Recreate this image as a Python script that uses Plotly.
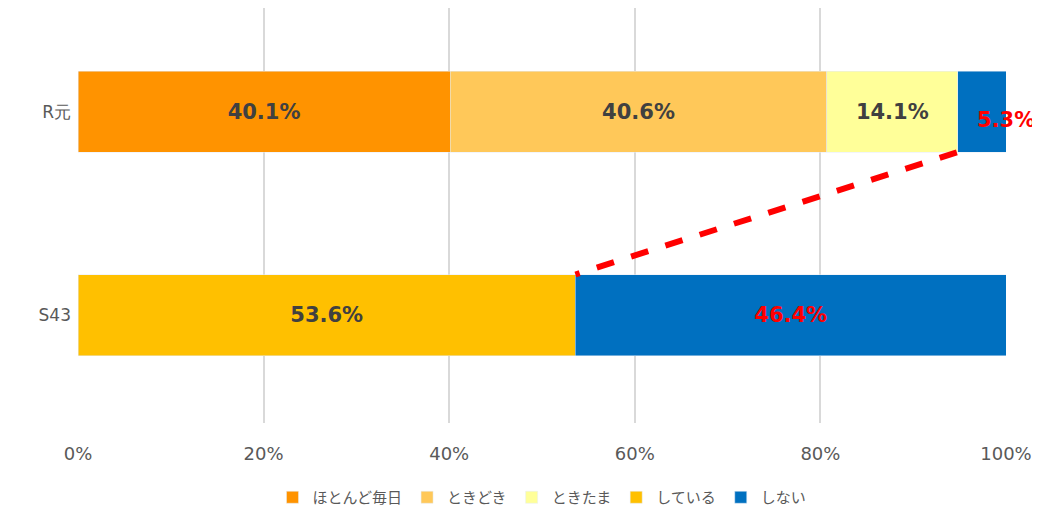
import plotly.graph_objects as go

cats = ["S43", "R元"]
series = ["ほとんど毎日", "ときどき", "ときたま", "している", "しない"]
values = {
    "ほとんど毎日": [None, 40.1],
    "ときどき": [None, 40.6],
    "ときたま": [None, 14.1],
    "している": [53.6, None],
    "しない": [46.4, 5.3],
}
colors = {"ほとんど毎日": "#FF9300", "ときどき": "#FFC859", "ときたま": "#FFFF99",
          "している": "#FFC000", "しない": "#0070C0"}
xticks = [0, 20, 40, 60, 80, 100]
ypos = [0, 1]
lblfont = dict(family="DejaVu Sans", size=21, color="#404040", weight="bold")

fig = go.Figure()
for s in series:
    v = values[s]
    f = dict(lblfont)
    if s == "しない":
        f["color"] = "#FF0000"
    txt = []
    for x in v:
        txt.append(f"{x:.1f}%" if (x is not None and x > 10) else "")
    fig.add_bar(
        y=ypos, x=v, name=s, orientation="h", width=0.4,
        marker=dict(color=colors[s]),
        text=txt, textposition="inside", insidetextanchor="middle",
        textfont=f, constraintext="none",
    )

# small value label placed outside the narrow bar
small = values["しない"][1]
fig.add_annotation(x=100, y=ypos[1] - 0.04, xref="x", yref="y", text=f"{small:.1f}%",
                   showarrow=False, xanchor="center",
                   font=dict(family="DejaVu Sans", size=21, color="#FF0000", weight="bold"))

# dashed connector
r_start = 100 - values["しない"][1]
s_start = values["している"][0]
fig.add_shape(type="line", xref="x", yref="y",
              x0=r_start, y0=ypos[1] - 0.2, x1=s_start, y1=ypos[0] + 0.2,
              line=dict(color="#FF0000", width=6, dash="dash"))

fig.update_layout(
    barmode="stack", width=1040, height=506,
    margin=dict(l=70, r=42, t=0, b=81),
    plot_bgcolor="white", paper_bgcolor="white",
    font=dict(family="DejaVu Sans", color="#595959"),
    xaxis=dict(range=[0, 100], tickvals=xticks, ticktext=[f"{t}%" for t in xticks],
               showgrid=True, gridcolor="#D9D9D9", gridwidth=1.5, zeroline=False,
               tickfont=dict(size=18, color="#595959"), ticks="", ticklabelstandoff=18),
    yaxis=dict(range=[-0.53, 1.51], tickvals=ypos, ticktext=cats, showgrid=False,
               zeroline=False, tickfont=dict(size=17, color="#595959"), ticks="",
               ticklabelstandoff=6),
    legend=dict(orientation="h", x=0.5, xanchor="center", y=-0.14, yanchor="top",
                font=dict(size=15, color="#595959", family="Noto Sans CJK JP"),
                traceorder="normal", itemwidth=30),
    showlegend=True,
)
fig.write_html("out.html")
